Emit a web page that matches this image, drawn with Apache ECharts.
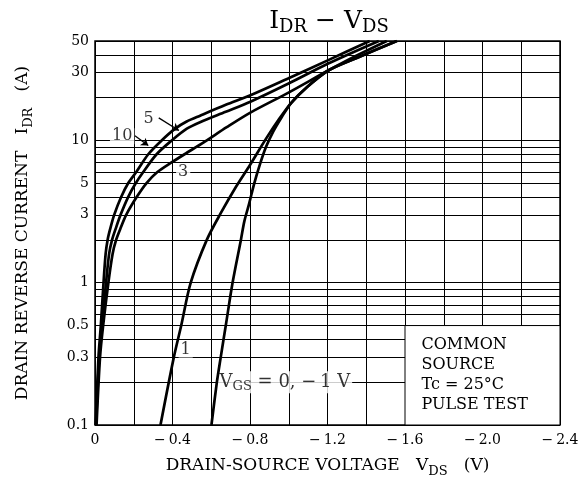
<!DOCTYPE html>
<html><head><meta charset="utf-8">
<script src="https://cdn.jsdelivr.net/npm/echarts@6/dist/echarts.min.js"></script>
<style>html,body{margin:0;padding:0;background:#fff}#c{width:588px;height:496px}</style>
</head><body><div id="c"></div>
<script>
// ---- Data (VDS in V, IDR in A) ----
const vgs10V = [-0.003,-0.018,-0.030,-0.044,-0.055,-0.065,-0.078,-0.099,-0.135,-0.171,-0.213,-0.275,-0.344,-0.414,-0.473,-0.545,-0.675,-0.802,-0.999,-1.204,-1.418];
const vgs10I = [0.1,0.3,0.5,1,1.6,2,2.38,3,4,5,6,8,10,12.1,13.6,15.0,17.8,20.8,27.4,36.7,50];
const vgs5V  = [-0.005,-0.022,-0.036,-0.057,-0.073,-0.088,-0.106,-0.132,-0.171,-0.210,-0.249,-0.318,-0.396,-0.474,-0.545,-0.675,-0.802,-0.999,-1.204,-1.465];
const vgs5I  = [0.1,0.3,0.5,1,1.6,2,2.38,3,4,5,6,8,10,12.1,13.5,15.9,18.7,25.1,34.7,50];
const vgs3V  = [-0.008,-0.026,-0.042,-0.069,-0.091,-0.109,-0.130,-0.161,-0.215,-0.265,-0.322,-0.395,-0.462,-0.561,-0.68,-0.802,-0.999,-1.204,-1.351,-1.506];
const vgs3I  = [0.1,0.3,0.5,1,1.6,2,2.38,3,4,5,6,7,8,9.7,12.4,15.7,21.7,31,39.5,50];
const vgs1V  = [-0.338,-0.407,-0.445,-0.494,-0.577,-0.649,-0.727,-0.800,-0.883,-0.951,-1.013,-1.091,-1.204,-1.351,-1.558];
const vgs1I  = [0.1,0.3,0.5,1,2,3.08,4.71,6.73,10.3,14.2,18.4,23.5,31,38,50];
const vgs0V  = [-0.601,-0.629,-0.649,-0.675,-0.710,-0.753,-0.771,-0.795,-0.821,-0.852,-0.883,-0.919,-0.961,-1.013,-1.091,-1.204,-1.351,-1.558];
const vgs0I  = [0.1,0.2,0.3,0.5,1,2,2.71,3.57,4.94,6.84,9.02,11.5,14.4,18.4,23.5,31,38,50];

// ---- Axis ticks / labels ----
const xTickValues = [0,-0.4,-0.8,-1.2,-1.6,-2.0,-2.4];
const xTickLabels = ['0','\u2212\u20090.4','\u2212\u20090.8','\u2212\u20091.2','\u2212\u20091.6','\u2212\u20092.0','\u2212\u20092.4'];
const yTickValues = [0.1,0.3,0.5,1,3,5,10,30,50];
const yTickLabels = ['0.1','0.3','0.5','1','3','5','10','30','50'];
const yGridValues = [0.1,0.2,0.3,0.4,0.5,0.6,0.7,0.8,0.9,1,2,3,4,5,6,7,8,9,10,20,30,40,50];

// ---- Annotations ----
const annoText = ['5','10','3','1','{v|V}{s|GS}{v| = 0, \u2212\u20091 V}'];
const annoV = [-0.277,-0.14,-0.455,-0.468,-0.98];
const annoI = [14.2,10.7,6.0,0.339,0.2];
const arrowFromV = [-0.329,-0.206];
const arrowFromI = [14.4,10.8];
const arrowToV = [-0.433,-0.275];
const arrowToI = [11.75,9.2];
const boxLines = ['COMMON','SOURCE','Tc = 25\u00b0C','PULSE TEST'];
const boxFrom = [-1.6,0.5];
const boxTo = [-2.4,0.1];

const FONT = 'DejaVu Serif';
const chart = echarts.init(document.getElementById('c'));
const pairs = (vs, is) => vs.map((v,k) => [v, is[k]]);
const curve = (name, vs, is) => ({type:'line', name, data:pairs(vs,is), smooth:0.3, symbol:'none', z:10, silent:true,
  lineStyle:{color:'#000', width:2.7}});

const option = {
  animation:false,
  backgroundColor:'#fff',
  textStyle:{fontFamily:FONT, color:'#000'},
  title:{
    text:'{a|I}{s|DR}{a| \u2212 V}{s|DS}',
    left:324, top:1, textAlign:'center',
    textStyle:{fontFamily:FONT, fontWeight:'normal', rich:{
      a:{fontFamily:FONT, fontSize:25, fontWeight:'normal', lineHeight:30, color:'#000'},
      s:{fontFamily:FONT, fontSize:18, fontWeight:'normal', lineHeight:18, verticalAlign:'bottom', color:'#000'}
    }}
  },
  grid:{left:95, right:28, top:41, bottom:71, show:true, borderColor:'#000', borderWidth:1.5, backgroundColor:'transparent'},
  xAxis:{
    type:'value', min:-2.4, max:0, interval:0.2, inverse:true,
    axisLine:{show:false}, axisTick:{show:false},
    splitLine:{show:true, lineStyle:{color:'#000', width:1}},
    axisLabel:{fontFamily:FONT, fontSize:14, color:'#000', margin:8,
      formatter:(v)=>{const k = xTickValues.findIndex(t=>Math.abs(t-v)<1e-6); return k>=0 ? xTickLabels[k] : '';}},
    name:'{n|DRAIN-SOURCE VOLTAGE   V}{s|DS}{n|   (V)}', nameLocation:'middle', nameGap:29,
    nameTextStyle:{rich:{
      n:{fontFamily:FONT, fontSize:17, lineHeight:24, color:'#000'},
      s:{fontFamily:FONT, fontSize:13, lineHeight:13, verticalAlign:'bottom', color:'#000'}
    }}
  },
  yAxis:{
    type:'log', logBase:10, min:0.1, max:50,
    axisLine:{show:false}, axisTick:{show:false}, splitLine:{show:false}, axisLabel:{show:false},
    name:'{n|DRAIN REVERSE CURRENT   I}{s|DR}{n|   (A)}', nameLocation:'middle', nameRotate:90, nameGap:60,
    nameTextStyle:{rich:{
      n:{fontFamily:FONT, fontSize:17, lineHeight:24, color:'#000'},
      s:{fontFamily:FONT, fontSize:13, lineHeight:13, verticalAlign:'bottom', color:'#000'}
    }}
  },
  series:[
    {type:'line', name:'grid', data:[], silent:true,
     markLine:{silent:true, symbol:'none', z:5, animation:false,
       lineStyle:{type:'solid', color:'#000', width:1},
       data:yGridValues.map(v=>{
         const k = yTickValues.indexOf(v);
         return {yAxis:v, label: k>=0 ? {show:true, position:'end', distance:6, formatter:yTickLabels[k],
           fontFamily:FONT, fontSize:14, color:'#000'} : {show:false}};
       })}},
    {type:'line', name:'box', data:[], silent:true,
     markArea:{silent:true, z:6, animation:false,
       itemStyle:{color:'#fff', borderColor:'#000', borderWidth:1},
       label:{show:true, position:'insideLeft', distance:17, formatter:boxLines.join('\n'),
         fontFamily:FONT, fontSize:16, lineHeight:20, color:'#000', align:'left'},
       data:[[{xAxis:boxFrom[0], yAxis:boxFrom[1]},{xAxis:boxTo[0], yAxis:boxTo[1]}]]}},
    {type:'scatter', name:'notes', z:7, silent:true, symbolSize:1, itemStyle:{color:'rgba(0,0,0,0)'},
     data:annoV.map((v,k)=>({value:[v, annoI[k]], label:{formatter:annoText[k]}})),
     label:{show:true, position:'inside', fontFamily:FONT, fontSize:16, color:'#000',
       backgroundColor:'#fff', padding:[0,2],
       rich:{
         v:{fontFamily:FONT, fontSize:18, lineHeight:22, color:'#000'},
         s:{fontFamily:FONT, fontSize:13, lineHeight:13, verticalAlign:'bottom', color:'#000'}
       }},
     markLine:{silent:true, symbol:['none','arrow'], symbolSize:7, z:8, animation:false,
       lineStyle:{type:'solid', color:'#000', width:1.3}, label:{show:false},
       data:arrowFromV.map((v,k)=>[{coord:[v, arrowFromI[k]]},{coord:[arrowToV[k], arrowToI[k]]}])}},
    curve('VGS=10', vgs10V, vgs10I),
    curve('VGS=5', vgs5V, vgs5I),
    curve('VGS=3', vgs3V, vgs3I),
    curve('VGS=1', vgs1V, vgs1I),
    curve('VGS=0,-1', vgs0V, vgs0I)
  ]
};
chart.setOption(option);
</script></body></html>
